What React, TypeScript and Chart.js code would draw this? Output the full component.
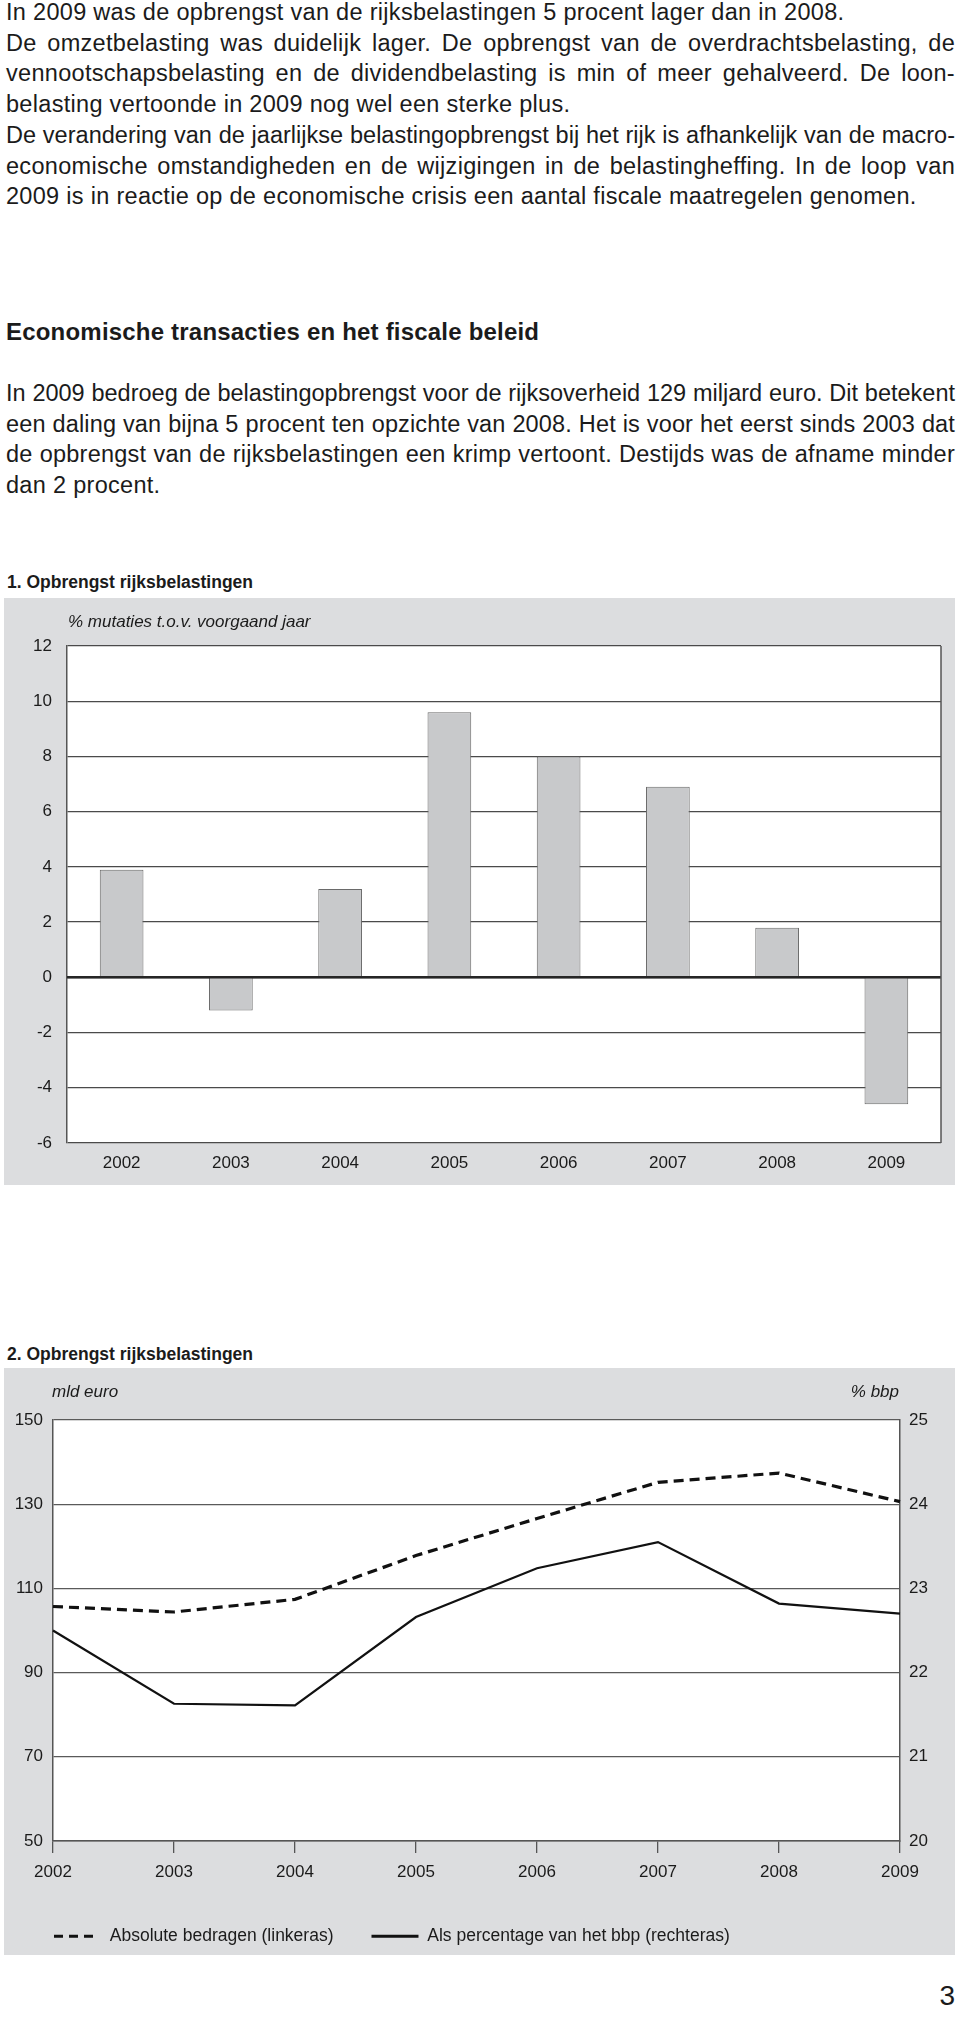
import React, { useEffect, useLayoutEffect, useRef } from "react";
import { Chart, registerables } from "chart.js";

Chart.register(...registerables);

// ---------- data ----------
const years = ["2002", "2003", "2004", "2005", "2006", "2007", "2008", "2009"];
// Chart 1: % mutaties t.o.v. voorgaand jaar
const growthPct = [3.9, -1.2, 3.2, 9.6, 8.0, 6.9, 1.8, -4.6];
// Chart 2: absolute bedragen (mld euro, linkeras)
const revenueBn = [105.7, 104.4, 107.4, 117.8, 126.6, 135.2, 137.4, 130.6];
// Chart 2: als percentage van het bbp (rechteras)
const revenuePctGdp = [22.5, 21.63, 21.61, 22.66, 23.24, 23.55, 22.82, 22.7];

const chart1Range = { min: -6, max: 12, step: 2 };
const chart2LeftRange = { min: 50, max: 150, step: 20 };
const chart2RightRange = { min: 20, max: 25, step: 1 };

const legendLabels = ["Absolute bedragen (linkeras)", "Als percentage van het bbp (rechteras)"];

const para1 = [
  { t: "In 2009 was de opbrengst van de rijksbelastingen 5 procent lager dan in 2008.", j: false },
  { t: "De omzetbelasting was duidelijk lager. De opbrengst van de overdrachtsbelasting, de", j: true },
  { t: "vennootschapsbelasting en de dividendbelasting is min of meer gehalveerd. De loon-", j: true },
  { t: "belasting vertoonde in 2009 nog wel een sterke plus.", j: false },
  { t: "De verandering van de jaarlijkse belastingopbrengst bij het rijk is afhankelijk van de macro-", j: true },
  { t: "economische omstandigheden en de wijzigingen in de belastingheffing. In de loop van", j: true },
  { t: "2009 is in reactie op de economische crisis een aantal fiscale maatregelen genomen.", j: false },
];
const heading = "Economische transacties en het fiscale beleid";
const para2 = [
  { t: "In 2009 bedroeg de belastingopbrengst voor de rijksoverheid 129 miljard euro. Dit betekent", j: true },
  { t: "een daling van bijna 5 procent ten opzichte van 2008. Het is voor het eerst sinds 2003 dat", j: true },
  { t: "de opbrengst van de rijksbelastingen een krimp vertoont. Destijds was de afname minder", j: true },
  { t: "dan 2 procent.", j: false },
];

// ---------- style ----------
const FONT = '"Liberation Sans", Arial, Helvetica, sans-serif';
const GRAY = "#dcdddf";
const INK = "#1b1b1b";
const TEXT_LEFT = 6;
const TEXT_WIDTH = 949;

function TextLine({ text, center, justify, size = 23.5, spacing = 0.3, weight = 400 }: any) {
  const ref = useRef<HTMLDivElement>(null);
  useLayoutEffect(() => {
    const el = ref.current;
    if (!el) return;
    const span = el.firstChild as HTMLSpanElement;
    el.style.whiteSpace = "nowrap";
    el.style.textAlign = "left";
    el.style.textAlignLast = "left";
    el.style.letterSpacing = spacing + "px";
    const W = el.clientWidth;
    const w = span.getBoundingClientRect().width;
    if (w > W - 1) {
      const ls = spacing - (w - W + 3) / text.length;
      el.style.letterSpacing = ls + "px";
    }
    el.style.whiteSpace = "normal";
    if (justify) {
      el.style.textAlign = "justify";
      el.style.textAlignLast = "justify";
    }
  }, [text, justify, spacing]);
  return (
    <div
      ref={ref}
      style={{
        position: "absolute",
        left: TEXT_LEFT,
        width: TEXT_WIDTH,
        top: center - 16,
        fontSize: size,
        lineHeight: "30px",
        letterSpacing: spacing,
        fontWeight: weight,
        whiteSpace: "nowrap",
      }}
    >
      <span>{text}</span>
    </div>
  );
}

function Label({ text, left, right, center, size = 17, italic = false, bold = false }: any) {
  const style: any = {
    position: "absolute",
    top: center - size * 0.62,
    fontSize: size,
    lineHeight: `${Math.round(size * 1.2)}px`,
    fontStyle: italic ? "italic" : "normal",
    fontWeight: bold ? 700 : 400,
    whiteSpace: "nowrap",
  };
  if (left !== undefined) style.left = left;
  if (right !== undefined) style.right = 960 - right;
  return <div style={style}>{text}</div>;
}

const tickFont = { family: FONT, size: 17 };
const legendFont = { family: FONT, size: 17.5 };

function GrowthChart() {
  const ref = useRef<HTMLCanvasElement>(null);
  useEffect(() => {
    const plotDecor = {
      id: "plotDecor",
      beforeDraw(c: any) {
        const { ctx, chartArea: a } = c;
        ctx.save();
        ctx.fillStyle = "#ffffff";
        ctx.fillRect(a.left, a.top, a.right - a.left, a.bottom - a.top);
        ctx.restore();
      },
      afterDatasetsDraw(c: any) {
        const { ctx, chartArea: a, scales } = c;
        const y0 = scales.y.getPixelForValue(0);
        ctx.save();
        ctx.strokeStyle = "#262626";
        ctx.lineWidth = 2.5;
        ctx.beginPath();
        ctx.moveTo(a.left, y0);
        ctx.lineTo(a.right, y0);
        ctx.stroke();
        ctx.strokeStyle = "#555555";
        ctx.lineWidth = 1.5;
        ctx.beginPath();
        ctx.moveTo(a.right, a.top);
        ctx.lineTo(a.right, a.bottom);
        ctx.stroke();
        ctx.restore();
      },
    };
    const chart = new Chart(ref.current as HTMLCanvasElement, {
      type: "bar",
      data: {
        labels: years,
        datasets: [
          {
            data: growthPct,
            backgroundColor: "#c8c9cb",
            borderColor: "#6a6a6a",
            borderWidth: 1,
            categoryPercentage: 1,
            barPercentage: 0.4,
          },
        ],
      },
      options: {
        responsive: false,
        animation: false,
        layout: { padding: { top: 48, right: 14, left: 0, bottom: 0 } },
        plugins: { legend: { display: false }, tooltip: { enabled: false } },
        scales: {
          x: {
            grid: { display: false },
            border: { display: false },
            ticks: { color: INK, font: tickFont, padding: 2, maxRotation: 0, autoSkip: false },
            afterFit(s: any) {
              s.height = 42;
            },
          },
          y: {
            min: chart1Range.min,
            max: chart1Range.max,
            ticks: { stepSize: chart1Range.step, color: INK, font: tickFont, padding: 15 },
            grid: { color: "#4a4a4a", lineWidth: 1.3, drawTicks: false },
            border: { display: true, color: "#555555", width: 1.5 },
            afterFit(s: any) {
              s.width = 63;
            },
          },
        },
      },
      plugins: [plotDecor],
    } as any);
    return () => chart.destroy();
  }, []);
  return (
    <canvas
      ref={ref}
      width={951}
      height={587}
      style={{ position: "absolute", left: 4, top: 598, width: 951, height: 587, background: GRAY }}
    />
  );
}

function RevenueChart() {
  const ref = useRef<HTMLCanvasElement>(null);
  useEffect(() => {
    const plotDecor = {
      id: "plotDecor2",
      beforeDraw(c: any) {
        const { ctx, chartArea: a } = c;
        ctx.save();
        ctx.fillStyle = "#ffffff";
        ctx.fillRect(a.left, a.top, a.right - a.left, a.bottom - a.top);
        ctx.restore();
      },
    };
    const chart = new Chart(ref.current as HTMLCanvasElement, {
      type: "line",
      data: {
        labels: years,
        datasets: [
          {
            label: legendLabels[0],
            data: revenueBn,
            yAxisID: "y",
            borderColor: "#111111",
            backgroundColor: "#111111",
            borderWidth: 3.2,
            borderDash: [10, 6],
            pointRadius: 0,
            tension: 0,
          },
          {
            label: legendLabels[1],
            data: revenuePctGdp,
            yAxisID: "y1",
            borderColor: "#111111",
            backgroundColor: "#111111",
            borderWidth: 2.2,
            pointRadius: 0,
            tension: 0,
          },
        ],
      },
      options: {
        responsive: false,
        animation: false,
        layout: { padding: { top: 52, right: 0, left: 12, bottom: 0 } },
        plugins: {
          tooltip: { enabled: false },
          legend: {
            display: true,
            position: "bottom",
            align: "start",
            labels: {
              usePointStyle: true,
              pointStyle: "line",
              pointStyleWidth: 47,
              padding: 38,
              color: INK,
              font: legendFont,
              generateLabels(c: any) {
                const items = Chart.defaults.plugins.legend.labels.generateLabels(c);
                return items.map((it: any, i: number) => ({
                  ...it,
                  pointStyle: "line",
                  lineWidth: 3,
                  lineDash: i === 0 ? [9, 6, 9, 6, 9, 40] : [],
                  lineCap: "butt",
                }));
              },
            },
          },
        },
        scales: {
          x: {
            offset: false,
            grid: {
              display: true,
              drawOnChartArea: false,
              drawTicks: true,
              tickLength: 12,
              color: "#555555",
              lineWidth: 1.3,
            },
            border: { display: true, color: "#555555", width: 1.5 },
            ticks: { color: INK, font: tickFont, padding: 9, maxRotation: 0, autoSkip: false },
            afterFit(s: any) {
              s.height = 48.5;
            },
          },
          y: {
            position: "left",
            min: chart2LeftRange.min,
            max: chart2LeftRange.max,
            ticks: { stepSize: chart2LeftRange.step, color: INK, font: tickFont, padding: 10 },
            grid: { color: "#5a5a5a", lineWidth: 1.3, drawTicks: false },
            border: { display: true, color: "#555555", width: 1.5 },
            afterFit(s: any) {
              s.width = 37;
            },
          },
          y1: {
            position: "right",
            min: chart2RightRange.min,
            max: chart2RightRange.max,
            ticks: { stepSize: chart2RightRange.step, color: INK, font: tickFont, padding: 9 },
            grid: { display: false, drawTicks: false },
            border: { display: true, color: "#555555", width: 1.5 },
            afterFit(s: any) {
              s.width = 55;
            },
          },
        },
      },
      plugins: [plotDecor],
    } as any);
    return () => chart.destroy();
  }, []);
  return (
    <canvas
      ref={ref}
      width={951}
      height={587}
      style={{ position: "absolute", left: 4, top: 1368, width: 951, height: 587, background: GRAY }}
    />
  );
}

export default function App() {
  const lh = 30.7;
  return (
    <div
      style={{
        position: "absolute",
        left: 0,
        top: 0,
        width: 960,
        height: 2023,
        overflow: "hidden",
        background: "#ffffff",
        fontFamily: FONT,
        color: INK,
      }}
    >
      {para1.map((l, i) => (
        <TextLine key={"p1" + i} text={l.t} justify={l.j} center={13 + i * lh} />
      ))}
      <TextLine text={heading} justify={false} center={333} weight={700} spacing={0.2} size={24} />
      {para2.map((l, i) => (
        <TextLine key={"p2" + i} text={l.t} justify={l.j} center={394 + i * lh} />
      ))}

      <Label text="1.  Opbrengst rijksbelastingen" left={7} center={583} size={17.5} bold />
      <GrowthChart />
      <Label text="% mutaties t.o.v. voorgaand jaar" left={68} center={623} italic />

      <Label text="2.  Opbrengst rijksbelastingen" left={7} center={1355} size={17.5} bold />
      <RevenueChart />
      <Label text="mld euro" left={52} center={1393} italic />
      <Label text="% bbp" right={899} center={1393} italic />

      <Label text="3" right={955} center={1996} size={28} />
    </div>
  );
}
